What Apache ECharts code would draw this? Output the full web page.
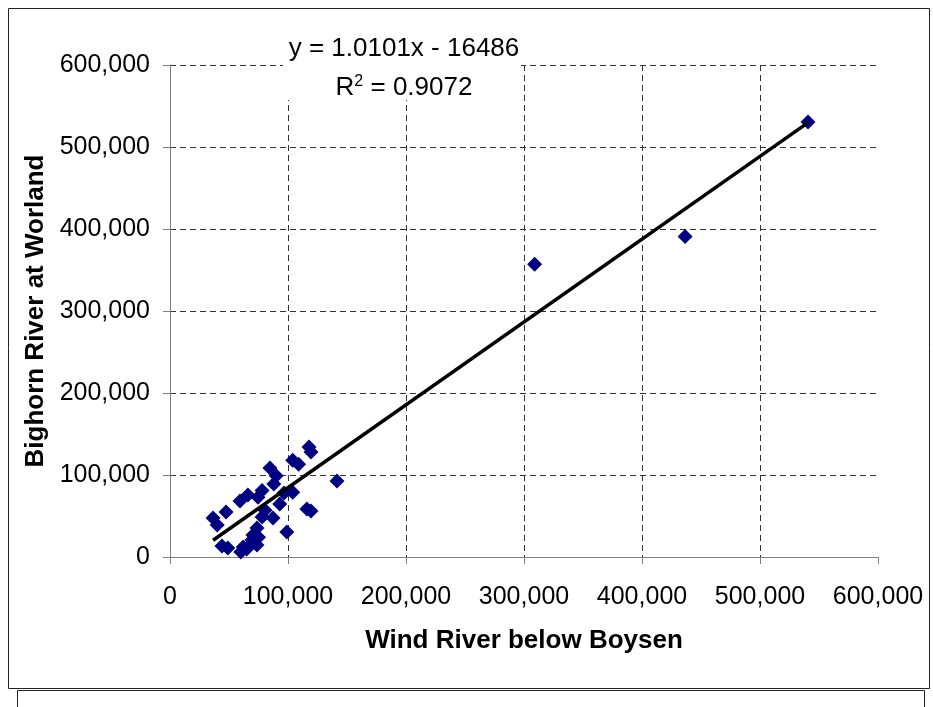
<!DOCTYPE html>
<html>
<head>
<meta charset="utf-8">
<script src="https://cdn.jsdelivr.net/npm/echarts@6/dist/echarts.min.js"></script>
<style>
html,body{margin:0;padding:0;background:#fff;}
#chart{width:933px;height:707px;}
</style>
</head>
<body>
<div id="chart"></div>
<script>
// Data
const windRiver = [540700, 436500, 309000, 141500, 117800, 119500, 104000, 109000, 84700, 90000,
  88000, 104000, 116000, 119500, 93000, 87300, 99000, 66000, 59300, 74600,
  36500, 47500, 40000, 44000, 62000, 60000, 73700, 70300, 73700, 78000,
  65000, 49000, 80500, 69500, 96600, 78000, 75000];
const bighorn = [530500, 391000, 357000, 92700, 134000, 128000, 118000, 113000, 108500, 99000,
  89000, 79000, 58500, 56000, 64600, 47600, 30500, 75600, 68300, 73000,
  47600, 55000, 39000, 13400, 12200, 6000, 14600, 26800, 35400, 48800,
  9800, 11000, 57000, 20700, 78000, 81000, 24000];
const trendSlope = 1.0101;
const trendIntercept = -16486;
const axisTicks = [0, 100000, 200000, 300000, 400000, 500000, 600000];
const eqText = 'y = 1.0101x - 16486';
const r2Text = '0.9072';

function fmt(v){ return String(v).replace(/\B(?=(\d{3})+(?!\d))/g, ','); }

const scatterData = windRiver.map((x, i) => [x, bighorn[i]]);
const xMin = Math.min(...windRiver), xMax = Math.max(...windRiver);
const trendData = [[xMin, trendSlope * xMin + trendIntercept], [xMax, trendSlope * xMax + trendIntercept]];

const chart = echarts.init(document.getElementById('chart'));
const fontFam = '"Liberation Sans", Arial, sans-serif';
const axisCommon = {
  type: 'value',
  min: axisTicks[0],
  max: axisTicks[axisTicks.length - 1],
  interval: axisTicks[1] - axisTicks[0],
  axisLine: { show: true, onZero: false, lineStyle: { color: '#808080', width: 1 } },
  axisTick: { show: true, inside: false, length: 7, lineStyle: { color: '#808080' } },
  splitLine: { show: true, lineStyle: { color: '#333', type: [6, 4], width: 1 } },
  axisLabel: { color: '#000', fontSize: 25, fontFamily: fontFam, formatter: fmt },
  nameLocation: 'middle',
  nameTextStyle: { color: '#000', fontSize: 26, fontWeight: 'bold', fontFamily: fontFam }
};

chart.setOption({
  animation: false,
  backgroundColor: '#fff',
  grid: { left: 170, right: 55, top: 65, bottom: 150, containLabel: false },
  xAxis: Object.assign({}, axisCommon, {
    name: 'Wind River below Boysen', nameGap: 71,
    axisLabel: Object.assign({}, axisCommon.axisLabel, { margin: 28 }),
    splitLine: Object.assign({}, axisCommon.splitLine, { showMaxLine: false })
  }),
  yAxis: Object.assign({}, axisCommon, {
    name: 'Bighorn River at Worland', nameGap: 116,
    axisLabel: Object.assign({}, axisCommon.axisLabel, { margin: 20 })
  }),
  series: [
    {
      type: 'scatter',
      data: scatterData,
      symbol: 'diamond',
      symbolSize: 15,
      itemStyle: { color: '#000080', opacity: 1 },
      z: 2
    },
    {
      type: 'line',
      data: trendData,
      showSymbol: false,
      symbol: 'none',
      lineStyle: { color: '#000', width: 3.5 },
      z: 3
    }
  ],
  graphic: [
    { type: 'rect', shape: { x: 8.5, y: 8.5, width: 921, height: 680 }, style: { fill: 'none', stroke: '#222', lineWidth: 1 }, z: 100 },
    { type: 'rect', shape: { x: 17.5, y: 690.5, width: 907, height: 40 }, style: { fill: 'none', stroke: '#222', lineWidth: 1 }, z: 100 },
    { type: 'rect', shape: { x: 283, y: 30, width: 238, height: 70 }, style: { fill: '#fff' }, z: 50 },
    { type: 'text', x: 404, y: 49, style: { text: eqText, fontSize: 26, fontFamily: fontFam, fill: '#000', align: 'center', verticalAlign: 'middle' }, z: 51 },
    { type: 'text', x: 404, y: 88, style: {
        text: 'R{sup|2} = ' + r2Text,
        fontSize: 26, fontFamily: fontFam, fill: '#000', align: 'center', verticalAlign: 'middle',
        rich: { sup: { fontSize: 16, fontFamily: fontFam, fill: '#000', verticalAlign: 'top', padding: [0, 0, 12, 0] } }
      }, z: 51 }
  ]
});
</script>
</body>
</html>
